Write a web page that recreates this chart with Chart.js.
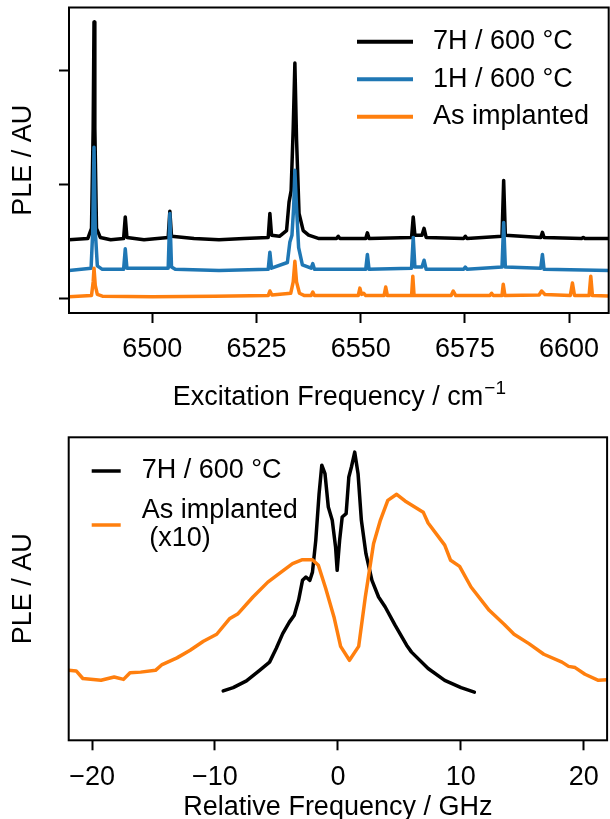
<!DOCTYPE html>
<html>
<head>
<meta charset="utf-8">
<script src="https://cdn.jsdelivr.net/npm/chart.js@4.4.1/dist/chart.umd.min.js"></script>
<style>
  html, body { margin: 0; padding: 0; background: #fff; overflow: hidden; }
  .panel { position: absolute; left: 0; width: 610px; height: 420px; }
  #topPanel { top: 0; }
  #bottomPanel { top: 420px; }
</style>
</head>
<body>
<div class="panel" id="topPanel"><canvas id="chartTop"></canvas></div>
<div class="panel" id="bottomPanel"><canvas id="chartBottom"></canvas></div>
<script>
// ---- top panel: PLE vs excitation frequency (traces offset) ----
const freqTicks = [6500, 6525, 6550, 6575, 6600];
const pleTicks = [0, 1, 2];
const topNames = ["7H / 600 °C", "1H / 600 °C", "As implanted"];

const freq7H = [6480, 6484.5, 6485.4, 6485.8, 6486.0, 6486.2, 6486.6, 6487.5, 6490, 6493.1, 6493.5, 6493.9, 6498, 6503.8, 6504.2, 6504.6, 6510, 6516, 6522, 6527.8, 6528.2, 6528.6, 6530.5, 6532.2, 6532.8, 6533.3, 6533.8, 6534.2, 6534.6, 6535.2, 6536.2, 6537.5, 6540, 6544.2, 6544.6, 6545.0, 6551.2, 6551.6, 6552.0, 6562.2, 6562.6, 6563.0, 6564.7, 6565.2, 6565.7, 6574.7, 6575.1, 6575.5, 6583.9, 6584.3, 6584.7, 6593.2, 6593.6, 6594.0, 6603.0, 6603.4, 6603.8, 6610];
const ple7H = [0.52, 0.53, 0.62, 1.5, 2.43, 1.5, 0.62, 0.54, 0.52, 0.53, 0.72, 0.54, 0.52, 0.54, 0.77, 0.55, 0.53, 0.52, 0.53, 0.54, 0.75, 0.56, 0.55, 0.6, 0.85, 0.95, 1.5, 2.07, 1.4, 0.75, 0.6, 0.56, 0.53, 0.53, 0.55, 0.53, 0.53, 0.58, 0.53, 0.54, 0.72, 0.56, 0.56, 0.62, 0.54, 0.53, 0.55, 0.53, 0.55, 1.04, 0.56, 0.54, 0.585, 0.54, 0.53, 0.54, 0.53, 0.53];

const freq1H = [6480, 6485.3, 6485.7, 6486.0, 6486.3, 6486.8, 6488, 6493.1, 6493.5, 6493.9, 6503.8, 6504.2, 6504.6, 6505.5, 6516, 6527.8, 6528.2, 6528.6, 6532.4, 6533.0, 6533.5, 6533.9, 6534.2, 6534.6, 6535.1, 6536.0, 6538.1, 6538.5, 6538.9, 6551.2, 6551.6, 6552.0, 6562.2, 6562.6, 6563.0, 6564.7, 6565.2, 6565.7, 6574.7, 6575.1, 6575.5, 6583.9, 6584.3, 6584.7, 6593.2, 6593.6, 6594.0, 6610];
const ple1H = [0.25, 0.27, 0.6, 1.33, 0.6, 0.29, 0.26, 0.26, 0.44, 0.27, 0.27, 0.75, 0.28, 0.26, 0.25, 0.26, 0.41, 0.27, 0.32, 0.5, 0.56, 0.8, 1.13, 0.8, 0.45, 0.3, 0.27, 0.31, 0.26, 0.26, 0.39, 0.26, 0.27, 0.54, 0.28, 0.28, 0.34, 0.26, 0.26, 0.28, 0.26, 0.28, 0.67, 0.28, 0.27, 0.39, 0.26, 0.25];

const freqAs = [6480, 6485.4, 6485.8, 6486.0, 6486.3, 6486.8, 6488, 6500, 6515, 6527.8, 6528.2, 6528.7, 6533.2, 6533.8, 6534.2, 6534.6, 6535.3, 6536.5, 6538.1, 6538.5, 6538.9, 6549.4, 6549.8, 6550.2, 6550.7, 6551.2, 6555.6, 6556.0, 6556.4, 6562.2, 6562.5, 6562.8, 6571.7, 6572.2, 6572.8, 6581.0, 6581.4, 6581.8, 6583.9, 6584.2, 6584.6, 6592.8, 6593.4, 6594.2, 6600.3, 6600.8, 6601.3, 6604.8, 6605.2, 6605.6, 6610];
const pleAs = [0.02, 0.03, 0.15, 0.27, 0.12, 0.04, 0.025, 0.02, 0.025, 0.03, 0.07, 0.035, 0.05, 0.15, 0.33, 0.15, 0.05, 0.03, 0.03, 0.06, 0.03, 0.03, 0.095, 0.04, 0.05, 0.03, 0.03, 0.105, 0.03, 0.03, 0.2, 0.03, 0.03, 0.07, 0.03, 0.03, 0.05, 0.03, 0.03, 0.13, 0.03, 0.035, 0.07, 0.04, 0.03, 0.14, 0.03, 0.03, 0.2, 0.03, 0.025];

// ---- bottom panel: PLE vs relative frequency ----
const relTicks = [-20, -10, 0, 10, 20];
const bottomNames = ["7H / 600 °C", ["As implanted", " (x10)"]];

const rel7H = [-9.33, -8.52, -7.44, -6.37, -5.56, -5.02, -4.49, -3.95, -3.55, -3.2, -2.88, -2.6, -2.28, -2.07, -1.8, -1.53, -1.31, -1.05, -0.78, -0.46, -0.19, -0.06, 0.14, 0.35, 0.67, 0.89, 1.1, 1.37, 1.64, 1.91, 2.28, 2.77, 3.31, 3.85, 4.65, 5.59, 5.99, 7.34, 8.69, 10.02, 11.1];
const relPle7H = [0.163, 0.174, 0.196, 0.231, 0.258, 0.303, 0.352, 0.39, 0.413, 0.462, 0.528, 0.539, 0.528, 0.555, 0.66, 0.814, 0.908, 0.88, 0.77, 0.726, 0.638, 0.561, 0.66, 0.737, 0.748, 0.869, 0.902, 0.951, 0.88, 0.726, 0.616, 0.528, 0.473, 0.44, 0.38, 0.314, 0.291, 0.237, 0.198, 0.174, 0.159];

const relAs = [-21.9, -21.29, -20.75, -19.27, -18.2, -17.44, -16.91, -16.05, -14.84, -14.3, -13.09, -12.02, -10.94, -9.86, -8.79, -8.12, -6.91, -5.7, -4.62, -3.69, -2.88, -2.07, -1.59, -0.99, -0.32, 0.22, 0.94, 1.69, 2.23, 2.9, 3.46, 4.06, 4.78, 5.46, 6.94, 7.34, 8.69, 9.17, 9.9, 10.83, 12.31, 13.52, 14.33, 15.54, 16.75, 18.23, 18.77, 19.3, 20.1, 21.19, 21.9];
const relPleAs = [0.231, 0.229, 0.204, 0.198, 0.209, 0.201, 0.223, 0.225, 0.231, 0.25, 0.272, 0.297, 0.327, 0.35, 0.402, 0.418, 0.473, 0.522, 0.555, 0.583, 0.596, 0.596, 0.578, 0.501, 0.407, 0.31, 0.264, 0.31, 0.473, 0.649, 0.727, 0.792, 0.812, 0.79, 0.753, 0.717, 0.644, 0.594, 0.574, 0.506, 0.429, 0.383, 0.35, 0.319, 0.284, 0.258, 0.244, 0.24, 0.218, 0.198, 0.2];

const BLACK = "#000000", BLUE = "#1f77b4", ORANGE = "#ff7f0e";
const FONT = "'Liberation Sans', Arial, Helvetica, sans-serif";
const FS = 27;

Chart.defaults.font.family = FONT;
Chart.defaults.color = "#000";
Chart.defaults.animation = false;

function pts(xs, ys) { return xs.map((x, i) => ({ x, y: ys[i] })); }

function line(label, xs, ys, color, width, order) {
  return {
    label, data: pts(xs, ys), borderColor: color, backgroundColor: color,
    borderWidth: width, pointRadius: 0, tension: 0, showLine: true,
    borderJoinStyle: "round", borderCapStyle: "round", order
  };
}

// matplotlib style box around the plot area
const frameBox = {
  id: "frameBox",
  afterDatasetsDraw(chart) {
    const { ctx, chartArea: a } = chart;
    ctx.save();
    ctx.strokeStyle = "#000";
    ctx.lineWidth = 2;
    ctx.strokeRect(a.left, a.top, a.right - a.left, a.bottom - a.top);
    ctx.restore();
  }
};

// legend drawn inside the axes
const insideLegend = {
  id: "insideLegend",
  afterDraw(chart, args, o) {
    const { ctx } = chart;
    ctx.save();
    ctx.font = `${o.size}px ${FONT}`;
    ctx.textBaseline = "middle";
    ctx.textAlign = "left";
    o.names.forEach((name, i) => {
      const ds = chart.data.datasets.find(d => d.label === name);
      const y = o.rows[i];
      ctx.strokeStyle = ds.borderColor;
      ctx.lineWidth = o.lineWidth;
      ctx.beginPath();
      ctx.moveTo(o.x1, y);
      ctx.lineTo(o.x2, y);
      ctx.stroke();
      ctx.fillStyle = "#000";
      const lines = Array.isArray(name) ? name : [name];
      const y0 = y - (lines.length - 1) * o.gap / 2;
      lines.forEach((t, k) => ctx.fillText(t, o.textX, y0 + k * o.gap));
    });
    ctx.restore();
  }
};

// x title with a raised exponent (cm^-1)
const supTitle = {
  id: "supTitle",
  afterDraw(chart, args, o) {
    if (!o.text) return;
    const { ctx, chartArea: a } = chart;
    ctx.save();
    ctx.fillStyle = "#000";
    ctx.textBaseline = "alphabetic";
    ctx.textAlign = "left";
    ctx.font = `${o.size}px ${FONT}`;
    const w1 = ctx.measureText(o.text).width;
    ctx.font = `${o.supSize}px ${FONT}`;
    const w2 = ctx.measureText(o.sup).width;
    const x0 = (a.left + a.right) / 2 - (w1 + w2) / 2;
    ctx.font = `${o.size}px ${FONT}`;
    ctx.fillText(o.text, x0, o.baseline);
    ctx.font = `${o.supSize}px ${FONT}`;
    ctx.fillText(o.sup, x0 + w1 + 1, o.baseline - o.raise);
    ctx.restore();
  }
};

function xAxis(min, max, ticks, title, tickPad, titlePad, height) {
  return {
    type: "linear", min, max,
    afterBuildTicks: s => { s.ticks = ticks.map(v => ({ value: v })); },
    afterFit: s => { s.height = height; },
    border: { display: false },
    grid: { drawOnChartArea: false, drawTicks: true, tickLength: 10, tickWidth: 2, tickColor: "#000" },
    ticks: { padding: tickPad, font: { size: FS }, maxRotation: 0, autoSkip: false,
             callback: v => (v < 0 ? "\u2212" + Math.abs(v) : String(v)) },
    title: { display: !!title, text: title, font: { size: FS }, padding: { top: 0, bottom: titlePad } }
  };
}

function yAxis(min, max, ticks, width) {
  return {
    type: "linear", min, max,
    afterBuildTicks: s => { s.ticks = ticks.map(v => ({ value: v })); },
    afterFit: s => { s.width = width; },
    border: { display: false },
    grid: { drawOnChartArea: false, drawTicks: ticks.length > 0, tickLength: 10, tickWidth: 2, tickColor: "#000" },
    ticks: { callback: () => "", padding: 0 },
    title: { display: true, text: "PLE / AU", font: { size: FS }, padding: { top: 7.8, bottom: 0 } }
  };
}

new Chart(document.getElementById("chartTop"), {
  type: "scatter",
  data: {
    datasets: [
      line(topNames[0], freq7H, ple7H, BLACK, 3.5, 3),
      line(topNames[1], freq1H, ple1H, BLUE, 3.5, 2),
      line(topNames[2], freqAs, pleAs, ORANGE, 3.5, 1)
    ]
  },
  options: {
    responsive: true, maintainAspectRatio: false,
    layout: { padding: { top: 7.5, right: 1, left: 0, bottom: 0 } },
    scales: {
      x: xAxis(6480, 6609.5, freqTicks, "", 10.8, 0, 107),
      y: yAxis(-0.123, 2.557, pleTicks, 69)
    },
    plugins: {
      legend: { display: false }, tooltip: { enabled: false },
      insideLegend: { names: topNames, rows: [41.7, 79.3, 116.7], x1: 357, x2: 413, textX: 433, size: FS, lineWidth: 4, gap: 28 },
      supTitle: { text: "Excitation Frequency / cm", sup: "\u22121", size: FS, supSize: 19, baseline: 405, raise: 11 }
    }
  },
  plugins: [frameBox, insideLegend, supTitle]
});

new Chart(document.getElementById("chartBottom"), {
  type: "scatter",
  data: {
    datasets: [
      line(bottomNames[0], rel7H, relPle7H, BLACK, 3.5, 2),
      line(bottomNames[1], relAs, relPleAs, ORANGE, 3.5, 1)
    ]
  },
  options: {
    responsive: true, maintainAspectRatio: false,
    layout: { padding: { top: 17.3, right: 1, left: 0, bottom: 0 } },
    scales: {
      x: xAxis(-21.9, 21.9, relTicks, "Relative Frequency / GHz", 11.2, 16, 99.7),
      y: yAxis(0, 1, [], 68.7)
    },
    plugins: {
      legend: { display: false }, tooltip: { enabled: false },
      insideLegend: { names: bottomNames, rows: [51, 105], x1: 91.7, x2: 120.7, textX: 141.7, size: FS, lineWidth: 3.5, gap: 28 }
    }
  },
  plugins: [frameBox, insideLegend]
});
</script>
</body>
</html>
